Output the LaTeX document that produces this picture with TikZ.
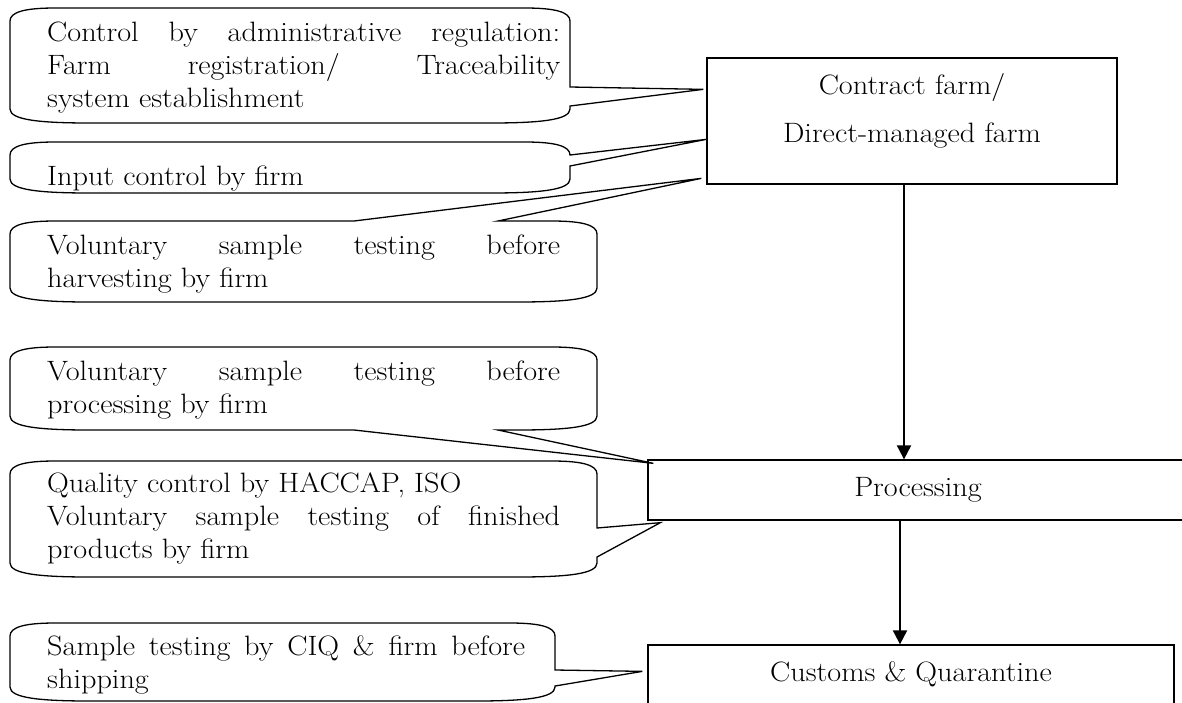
\documentclass[tikz,border=0pt]{standalone}
\usepackage{fontspec}
\setmainfont{Latin Modern Roman}[FakeStretch=1.08]
\usetikzlibrary{calc,arrows.meta}

% callout body: x0, y0, x1, y1, then the pointer put into the top, right or bottom edge
\newcommand{\bubble}[7]{%
  \draw[bubble] (#1,#2+13) .. controls (#1,#2+4) and (#1+15,#2) .. (#1+45,#2) #5
    -- (#3-45,#2) .. controls (#3-15,#2) and (#3,#2+4) .. (#3,#2+13) #6
    -- (#3,#4-14) .. controls (#3,#4-3) and (#3-30,#4) .. (#3-80,#4) #7
    -- (#1+80,#4) .. controls (#1+30,#4) and (#1,#4-3) .. (#1,#4-14) -- cycle;}

\begin{document}
\begin{tikzpicture}[x=1pt,y=-1pt,
    box/.style={draw,line width=1.3pt,inner sep=0pt,font=\fontsize{28}{33}\selectfont},
    bubble/.style={line width=1.3pt,line join=miter},
    note/.style={inner sep=0pt,anchor=base west,text width=513pt,align=justify,
      font=\fontsize{28}{33}\selectfont},
    flow/.style={line width=2pt,-{Triangle[length=14pt,width=14pt]}}]
  \useasboundingbox (0,0) rectangle (1182,702);
  \clip (0,0) rectangle (1182,702);

  % the three stages
  \node[box,minimum width=410pt,minimum height=126pt,text width=410pt,align=center,
    text depth=73pt] (farm) at (912,121) {Contract farm/\\[15pt]Direct-managed farm};
  \node[box,minimum width=540pt,minimum height=60pt] (proc) at (918,490) {Processing};
  \node[box,minimum width=526pt,minimum height=59pt] (cust) at (911,674.5)
    {Customs \& Quarantine};

  % flow between the stages
  \draw[flow] ([xshift=-8pt]farm.south) -- ([xshift=-8pt]farm.south |- proc.north);
  \draw[flow] ([xshift=-18pt]proc.south) -- ([xshift=-18pt]proc.south |- cust.north);

  % where the callouts point to
  \coordinate (tip1) at ($(farm.north west)+(-3,32)$);
  \coordinate (tip2) at ($(farm.north west)+(0,82)$);
  \coordinate (tip3) at ($(farm.north west)+(-5,121)$);
  \coordinate (tip4) at ($(proc.north west)+(6,4)$);
  \coordinate (tip5) at ($(proc.south west)+(13,2)$);
  \coordinate (tip6) at ($(cust.north west)+(-5,27)$);

  % callouts of the farm
  \bubble{10}{8}{570}{123}{}{-- (570,87) -- (tip1) -- (570,106)}{}
  \bubble{10}{142}{570}{193}{}{-- (570,155) -- (tip2) -- (570,166)}{}
  \bubble{10}{221}{597}{302}{-- (354,221) -- (tip3) -- (498,221)}{}{}
  \node[note] (regul) at (47,41) {Control by administrative regulation:\linebreak
    Farm registration/ Traceability\linebreak system establishment};
  \node[note] (input) at (47,185) {Input control by firm};
  \node[note] (harvest) at (47,254) {Voluntary sample testing before\linebreak
    harvesting by firm};

  % callouts of the processing
  \bubble{10}{347}{597}{430}{}{}{-- (498,430) -- (tip4) -- (354,430)}
  \bubble{10}{461}{597}{577}{}{-- (597,528) -- (tip5) -- (597,557)}{}
  \node[note] (preproc) at (47,380) {Voluntary sample testing before\linebreak
    processing by firm};
  \node[note] (quality) at (47,492) {Quality control by HACCAP, ISO\\
    Voluntary sample testing of finished\linebreak products by firm};

  % callout of the shipping
  \bubble{10}{623}{555}{701}{}{-- (555,670) -- (tip6) -- (555,686)}{}
  \node[note,text width=478pt] (ship) at (47,655) {Sample testing by CIQ \& firm
    before\linebreak shipping};
\end{tikzpicture}
\end{document}
